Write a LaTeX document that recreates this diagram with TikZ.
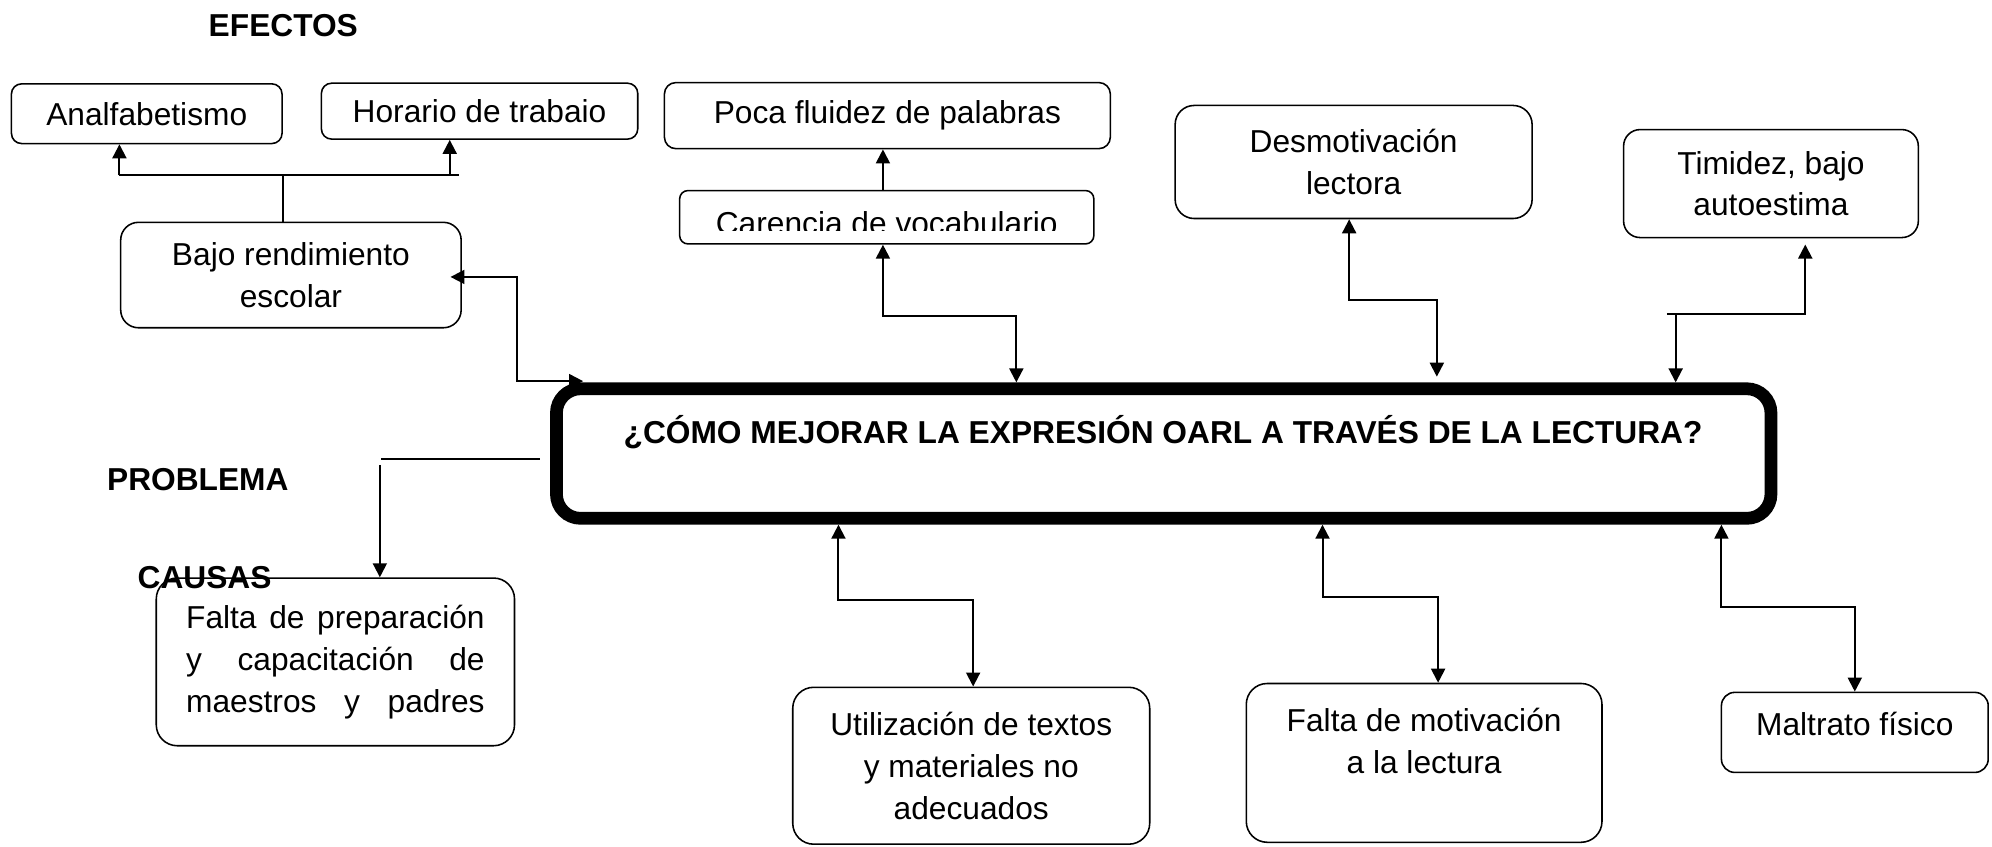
\documentclass[tikz,border=0pt]{standalone}
\usepackage{fontspec}
\setmainfont{Liberation Sans}
\usetikzlibrary{arrows.meta}
\newcommand\mysize{\fontsize{14.2}{18.7}\selectfont}
\tikzset{
  box/.style={draw, line width=0.7pt, rounded corners=#1, inner sep=0pt, align=center, font=\mysize},
  box/.default=0.16cm,
  sz/.style 2 args={minimum width=#1*0.02cm, minimum height=#2*0.02cm},
  txt/.style={inner sep=0pt, align=center, font=\mysize},
  hdr/.style={inner sep=0pt, font=\mysize\bfseries},
  ln/.style={line width=0.8pt},
  arr/.style={line width=0.9pt, -{Triangle[length=0.22cm,width=0.22cm]}},
  dbl/.style={line width=0.9pt, {Triangle[length=0.22cm,width=0.22cm]}-{Triangle[length=0.22cm,width=0.22cm]}},
}
\begin{document}
\begin{tikzpicture}[x=0.02cm,y=-0.02cm]
\fill[white] (0,0) rectangle (1568,666);
\useasboundingbox (0,0) rectangle (1568,666);

% effect boxes
\node[box, sz={213}{47}] (anal) at (115.5,89.5) {Analfabetismo};
\node[box, sz={249}{44}] (horario) at (377.5,87.5) {Horario de trabaio};
\node[box=0.18cm, sz={351}{52}] (poca) at (698.5,91) {Poca fluidez de palabras};
\node[box=0.13cm, sz={326}{42}] (carencia) at (698,171) {};
\begin{scope}
  \clip (530,140) rectangle (866,181.6);
  \node[txt] (carenciat) at (698,175.6) {Carencia de vocabulario};
\end{scope}
\node[box=0.28cm, sz={268}{83}] (bajo) at (229,216.5) {Bajo rendimiento\\escolar};
\node[box=0.3cm, sz={281}{89}] (desm) at (1065.5,127.5) {Desmotivación\\lectora};
\node[box=0.26cm, sz={232}{85}] (timid) at (1394,144.5) {Timidez, bajo\\autoestima};

% main problem box
\node[draw, line width=5.7pt, rounded corners=0.38cm, sz={956}{102}, inner sep=0pt] (main) at (916,357) {};
\node[hdr, anchor=base] (title) at (915.5,349) {¿CÓMO MEJORAR LA EXPRESIÓN OARL A TRAVÉS DE LA LECTURA?};

% cause boxes
\node[box=0.33cm, sz={282}{132}] (prep) at (264,521)
  {\makebox[4.7cm][s]{Falta de preparación}\\\makebox[4.7cm][s]{y capacitación de}\\\makebox[4.7cm][s]{maestros y padres}};
\node[box=0.33cm, sz={281}{123.5}] (util) at (764.5,602.75) {Utilización de textos\\y materiales no\\adecuados};
\node[box=0.33cm, sz={280}{125}] (fmot) at (1121,600.5) {};
\node[txt] (fmott) at (1121,583) {Falta de motivación\\a la lectura};
\node[box=0.21cm, sz={210}{63}] (malt) at (1460,576.5) {};
\node[txt] (maltt) at (1460,569.5) {Maltrato físico};

% headings
\node[hdr, anchor=base] (efectos) at (223,28.5) {EFECTOS};
\node[hdr, anchor=base west] (problema) at (84,386) {PROBLEMA};
\node[hdr, anchor=base west] (causas) at (108,463) {CAUSAS};

% helper coordinates
\coordinate (jv) at (222.5,138);
\coordinate (jl) at (94,138);
\coordinate (jh) at (354,138);
\coordinate (jr) at (361,138);
\coordinate (cx) at (695,0);
\coordinate (m0) at (459,300);
\coordinate (m1x) at (800,0);
\coordinate (m2) at (1131,296.5);
\coordinate (t0) at (1312,247);
\coordinate (t1) at (1319,247);
\coordinate (p0) at (425,361.6);
\coordinate (p1) at (300,361.6);
\coordinate (p2) at (299,366);
\coordinate (b1) at (660,0);
\coordinate (b2) at (1041,0);
\coordinate (b3) at (1355,0);
\coordinate (u1) at (766,0);
\coordinate (f1) at (1132,0);

% effects connectors
\draw[ln] (jv |- bajo.north) -- (jv);
\draw[ln] (jl) -- (jr);
\draw[arr] (jl) -- (jl |- anal.south);
\draw[arr] (jh) -- (jh |- horario.south);
\draw[arr] (cx |- carencia.north) -- (cx |- poca.south);
\draw[dbl] (cx |- carencia.south) |- (800,249) -- (m1x |- main.north);
\draw[dbl] ([shift={(-9,1.5)}]bajo.east) -| (407,300) -- (m0);
\draw[dbl] ([xshift=-0.07cm]desm.south) |- (1131,236) -- (m2);
\draw[arr, shorten >=0.1cm] (t0) -| (1421,187.5);
\draw[arr] (t1) -- (t1 |- main.north);

% problem to causes
\draw[ln] (p0) -- (p1);
\draw[arr] (p2) -- (p2 |- prep.north);

% causes connectors
\draw[dbl] (b1 |- main.south) |- (766,472) -- (u1 |- util.north);
\draw[dbl] (b2 |- main.south) |- (1132,470) -- (f1 |- fmot.north);
\draw[dbl] (b3 |- main.south) |- (1460,478) -- (malt.north);
\end{tikzpicture}
\end{document}
